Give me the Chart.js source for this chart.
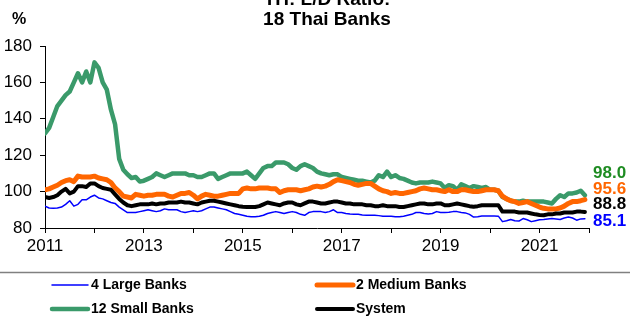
<!DOCTYPE html>
<html>
<head>
<meta charset="utf-8">
<script src="https://cdn.jsdelivr.net/npm/chart.js@4/dist/chart.umd.min.js"></script>
<style>
    html, body { margin: 0; padding: 0; background: #fff; overflow: hidden; }
    canvas { display: block; }
</style>
</head>
<body>
<canvas id="ldChart" width="630" height="316"></canvas>
<script>
// monthly L/D ratio, Jan 2011 .. Dec 2021
const startYear = 2011;
const yearTicks = [2011, 2013, 2015, 2017, 2019, 2021];
const seriesNames = ['4 Large Banks', '2 Medium Banks', '12 Small Banks', 'System'];

const large = [
    92, 91, 90.8, 91, 91.5, 93, 95, 92, 93, 95.5, 95.5, 97,
    98, 96.5, 96, 95, 94, 93.5, 91.5, 90, 88.5, 88.5, 88.5, 89,
    89.5, 90, 89.5, 89, 89.5, 90.5, 90, 90, 90, 89, 88.5, 89,
    89.5, 89, 89.5, 90.5, 91.5, 91.5, 91, 90.5, 90, 89, 88, 87.5,
    87, 86.5, 86.2, 86.2, 86.5, 87, 88, 88.5, 89, 88.5, 88, 88.5,
    89, 88.5, 87.5, 87, 88.5, 89, 89, 89, 88.5, 89, 90, 88.5,
    88.5, 88, 87.7, 87.5, 87.5, 87.2, 87, 87, 87, 86.8, 86.5, 86.5,
    86.5, 86.2, 86.2, 86.5, 87, 87.5, 88.5, 88.5, 88, 87.7, 88, 89,
    88.5, 88.5, 88.6, 89, 89, 88.5, 88.3, 87.5, 86, 86.2, 86.6, 86.6,
    86.6, 86.6, 86.5, 83.5, 84, 84.7, 84, 83.8, 85.2, 84.5, 83.5, 84,
    84.5, 84.7, 85, 85.2, 85, 84.7, 85.5, 86, 85.5, 84.3, 85, 85.1
];
const medium = [
    101, 101.5, 102.5, 103.5, 105, 106, 106.5, 105.5, 108.5, 108, 108, 108,
    108.5, 107.5, 107, 106.5, 105, 102, 100, 97.5, 97, 96.5, 98.5, 98,
    97.5, 98, 98, 98.5, 98.5, 98.5, 97.5, 97, 98, 99, 99, 99.5,
    98, 96, 97.5, 98.5, 98, 97.5, 97.5, 98, 98.5, 99, 99, 99,
    101.5, 102, 101.5, 101.5, 102, 102, 102, 101.5, 101.5, 99.5, 100.5, 101,
    101, 101, 100.5, 101, 101.5, 102.5, 103, 102.5, 103, 104, 105.5, 106.5,
    106, 105.5, 105, 104, 103.5, 104, 104.5, 104.5, 103, 101.5, 100.5, 100,
    99, 99.5, 99, 99, 99.5, 100, 100.5, 101.5, 102, 101.5, 101, 101,
    100.5, 100, 101, 100, 100, 101, 101, 100.5, 100, 100, 100.5, 101,
    101, 101, 100.5, 97.5, 96, 95, 94.5, 93.5, 94, 94.5, 93.5, 92.5,
    91.5, 90.8, 90.5, 90.4, 90.5, 91, 92, 93.5, 94.5, 94.5, 95, 95.6
];
const small = [
    132, 135, 141, 147, 150, 153, 155, 160, 165, 160, 166, 160,
    171, 168, 160, 156, 145, 137, 118, 112, 109.5, 107.5, 108, 105.5,
    106, 107, 108, 110, 109, 108, 109, 110, 110, 110, 110, 109,
    109, 108, 108, 109, 110, 110, 107, 108, 109, 110, 110, 110,
    110, 111, 109, 107, 110, 113, 114, 114, 116, 116, 116, 115,
    113, 112, 114, 115, 114, 113, 111, 110, 109.5, 109, 109.5, 109.5,
    108, 107.5, 107, 106.5, 106, 106, 105.5, 105, 106, 109, 108, 111,
    108, 109, 107.5, 107, 106, 105, 104.5, 105, 105, 105, 105.5, 105,
    104.5, 102, 103.5, 103, 101, 104, 103, 102, 103, 102.5, 102, 102.5,
    101, 101, 100.5, 97, 96, 95, 94.5, 94.5, 95, 94.5, 94.5, 94.5,
    94.5, 94.5, 94, 93.5, 96, 98, 97, 99, 99, 99.5, 100.5, 98.0
];
const system = [
    97, 96.5, 97, 98, 100, 101.5, 99, 100, 103, 103, 102.5, 104.5,
    104.5, 103, 102, 101.5, 101, 98.5, 96, 94, 92.5, 92, 92.5, 93,
    93, 93, 93.5, 93, 93.5, 93.5, 94, 94, 94, 94.5, 94, 94,
    93.5, 93, 94, 94.5, 95, 95, 94.5, 94, 93.5, 93, 92.5, 92,
    91.7, 91.5, 91.5, 91.5, 92, 93, 94, 93.5, 93, 92.5, 93.5, 94,
    94, 93, 92.5, 93.5, 94.5, 94.5, 94, 93.5, 93.5, 94, 94.5, 94.5,
    94, 93.5, 93.5, 93, 93, 93, 92.5, 92.5, 92, 92, 92.5, 92,
    92, 92, 91.5, 91.5, 92, 92.5, 93, 93.5, 93.5, 93, 93, 93.5,
    93.5, 92.5, 92.5, 93, 93.5, 93, 92.5, 92, 91.7, 92, 92.5, 92.5,
    92.5, 92.5, 92.5, 89, 89, 89, 89, 88.5, 88.5, 88.5, 88, 87.5,
    87.2, 87, 87.5, 87.5, 88, 88, 88.5, 88.5, 88.5, 89, 89, 88.8
];

const FONT = "'Liberation Sans', Arial, sans-serif";
const colors = ['#0000ff', '#ff6600', '#3a9a6a', '#000000'];
const labelColors = ['#0000ff', '#ff6600', '#1e8c22', '#000000'];
const widths = [1.5, 5, 4.5, 4];

function toPoints(values) {
    return values.map((v, i) => ({ x: startYear + i / 12, y: v }));
}

// title, % sign and end-of-line value labels
const annotations = {
    id: 'annotations',
    afterDraw(chart) {
        const ctx = chart.ctx;
        const area = chart.chartArea;
        ctx.save();
        ctx.fillStyle = '#000';
        ctx.textAlign = 'center';
        ctx.textBaseline = 'middle';
        ctx.font = 'bold 19px ' + FONT;
        ctx.fillText('TH: L/D Ratio:', 327, 0);
        ctx.fillText('18 Thai Banks', 327, 20);
        ctx.font = 'bold 16px ' + FONT;
        ctx.fillText('%', 19, 20);

        // end values, spread out so they don't overlap
        const order = [2, 1, 3, 0];
        const ys = [173, 189, 204, 221];
        ctx.textAlign = 'left';
        ctx.font = 'bold 17px ' + FONT;
        order.forEach((di, k) => {
            const ds = chart.data.datasets[di];
            const last = ds.data[ds.data.length - 1].y;
            ctx.fillStyle = labelColors[di];
            ctx.fillText(last.toFixed(1), area.right + 4, ys[k]);
        });
        ctx.restore();
    }
};

// legend below the chart: separator line + 2x2 grid
const bottomLegend = {
    id: 'bottomLegend',
    afterDraw(chart) {
        const ctx = chart.ctx;
        ctx.save();
        ctx.strokeStyle = '#808080';
        ctx.lineWidth = 1.5;
        ctx.beginPath();
        ctx.moveTo(0, 272.5);
        ctx.lineTo(chart.width, 272.5);
        ctx.stroke();

        const cols = [52, 317];
        const rows = [285, 309];
        ctx.font = 'bold 14px ' + FONT;
        ctx.textBaseline = 'middle';
        ctx.textAlign = 'left';
        ctx.lineCap = 'round';
        chart.data.datasets.forEach((ds, i) => {
            const x = cols[i % 2];
            const y = rows[Math.floor(i / 2)];
            ctx.strokeStyle = ds.borderColor;
            ctx.lineWidth = ds.borderWidth;
            ctx.beginPath();
            ctx.moveTo(x, y);
            ctx.lineTo(x + 36, y);
            ctx.stroke();
            ctx.fillStyle = '#000';
            ctx.fillText(ds.label, x + 39, y);
        });
        ctx.restore();
    }
};

const seriesValues = [large, medium, small, system];
const drawOrder = [1, 3, 4, 2];

new Chart(document.getElementById('ldChart'), {
    type: 'line',
    data: {
        datasets: seriesValues.map((vals, i) => ({
            label: seriesNames[i],
            data: toPoints(vals),
            borderColor: colors[i],
            backgroundColor: colors[i],
            borderWidth: widths[i],
            pointRadius: 0,
            tension: 0,
            borderJoinStyle: 'round',
            borderCapStyle: 'round',
            order: drawOrder[i]
        }))
    },
    options: {
        responsive: false,
        animation: false,
        devicePixelRatio: 1,
        layout: { padding: { top: 46, right: 41, left: 0, bottom: 0 } },
        plugins: {
            legend: { display: false },
            title: { display: false },
            tooltip: { enabled: false }
        },
        scales: {
            x: {
                type: 'linear',
                min: 2011,
                max: 2022,
                afterFit: s => { s.height = 88; },
                afterBuildTicks: s => {
                    s.ticks = [];
                    for (let y = 2011; y <= 2022; y++) s.ticks.push({ value: y });
                },
                ticks: {
                    autoSkip: false,
                    maxRotation: 0,
                    padding: 3,
                    color: '#000',
                    font: { family: FONT, size: 17 },
                    callback: v => yearTicks.includes(v) ? String(v) : ''
                },
                grid: { drawOnChartArea: false, drawTicks: true, tickLength: 5, color: '#000' },
                border: { display: true, color: '#000', width: 1 }
            },
            y: {
                min: 80,
                max: 180,
                afterFit: s => { s.width = 45; },
                ticks: {
                    stepSize: 20,
                    padding: 8,
                    color: '#000',
                    font: { family: FONT, size: 17 }
                },
                grid: { drawOnChartArea: false, drawTicks: true, tickLength: 5, color: '#000' },
                border: { display: true, color: '#000', width: 1 }
            }
        }
    },
    plugins: [annotations, bottomLegend]
});
</script>
</body>
</html>
